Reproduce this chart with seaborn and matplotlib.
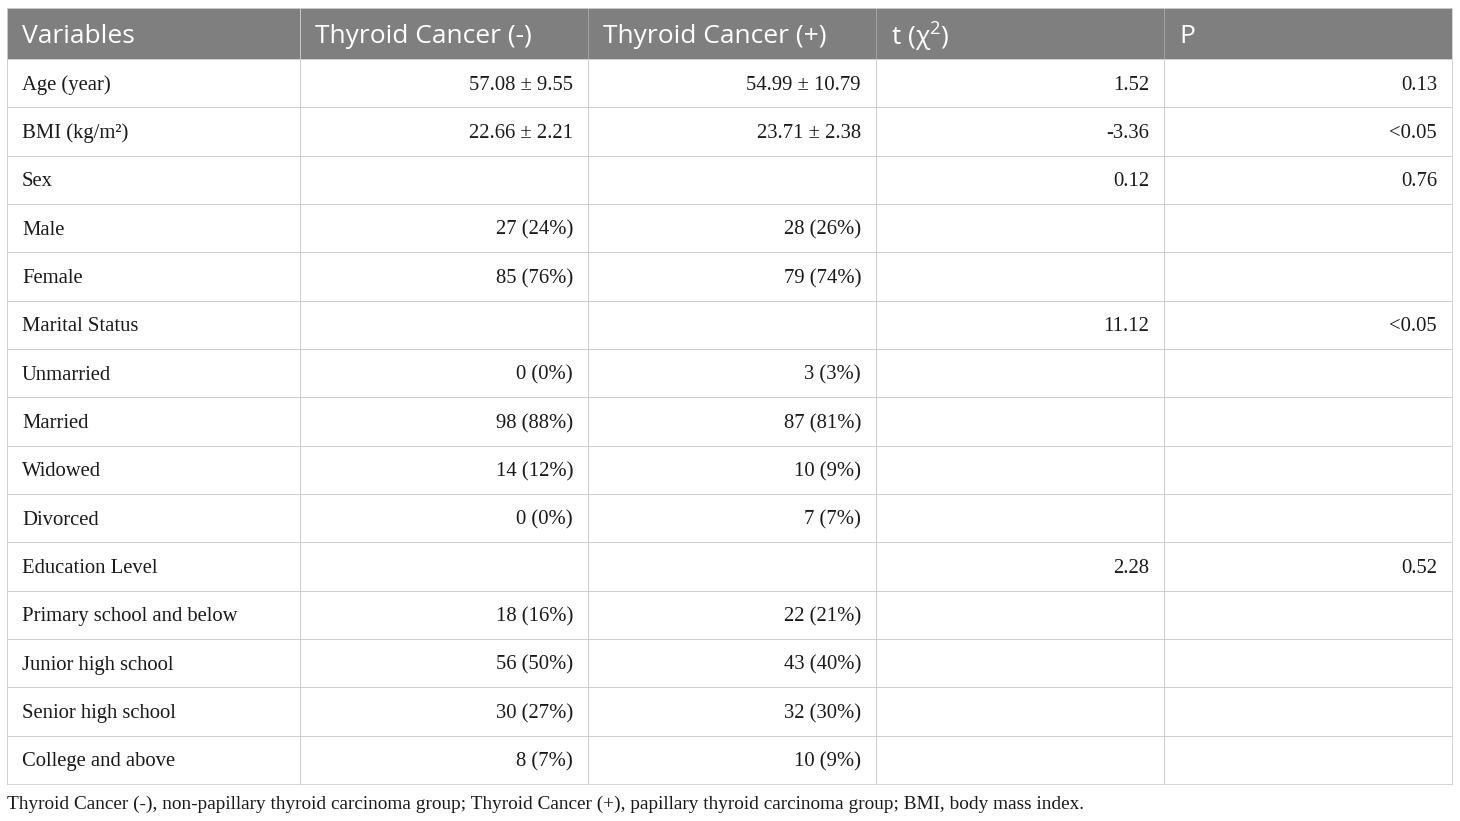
"""
Baseline characteristics table (thyroid cancer study)
- header band + body grid drawn with seaborn heatmaps
- cell texts placed on the heatmap axes
- saved as out.png
"""

import numpy as np
import matplotlib
matplotlib.use("Agg")
import matplotlib.pyplot as plt
import seaborn as sns
from matplotlib.colors import ListedColormap

# === Data ===
columns = ["Variables", "Thyroid Cancer (-)", "Thyroid Cancer (+)", "t (χ$^{2}$)", "P"]

variables = [
    "Age (year)", "BMI (kg/m²)", "Sex", "Male", "Female", "Marital Status",
    "Unmarried", "Married", "Widowed", "Divorced", "Education Level",
    "Primary school and below", "Junior high school", "Senior high school",
    "College and above",
]
cancer_neg = [
    "57.08 ± 9.55", "22.66 ± 2.21", "", "27 (24%)", "85 (76%)", "",
    "0 (0%)", "98 (88%)", "14 (12%)", "0 (0%)", "",
    "18 (16%)", "56 (50%)", "30 (27%)", "8 (7%)",
]
cancer_pos = [
    "54.99 ± 10.79", "23.71 ± 2.38", "", "28 (26%)", "79 (74%)", "",
    "3 (3%)", "87 (81%)", "10 (9%)", "7 (7%)", "",
    "22 (21%)", "43 (40%)", "32 (30%)", "10 (9%)",
]
t_chi2 = ["1.52", "-3.36", "0.12", "", "", "11.12", "", "", "", "", "2.28", "", "", "", ""]
p_value = ["0.13", "<0.05", "0.76", "", "", "<0.05", "", "", "", "", "0.52", "", "", "", ""]

footnote = ("Thyroid Cancer (-), non-papillary thyroid carcinoma group; "
            "Thyroid Cancer (+), papillary thyroid carcinoma group; BMI, body mass index.")

# === Style ===
sns.set_theme(style="white")
plt.rcParams["font.family"] = ["Liberation Serif", "DejaVu Serif"]
plt.rcParams["mathtext.fontset"] = "custom"
plt.rcParams["mathtext.rm"] = "Open Sans"

HEADER_BG = "#7f7f7f"
HEADER_LINE = "#a3a3a3"
GRID = "#cfcfcf"
TEXT = "#1a1a1a"
LW = 0.6

W, H = 1460, 821
X_EDGES = [7, 300, 1452]          # first column axes | other columns axes
TOP, HEAD_BOT, BOT = 8, 59, 784

fig = plt.figure(figsize=(W / 100, H / 100), dpi=100)
fig.patch.set_facecolor("white")


def grid_axes(x0, x1, y0, y1, nrows, ncols, color, line):
    ax = fig.add_axes([x0 / W, 1 - y1 / H, (x1 - x0) / W, (y1 - y0) / H])
    sns.heatmap(np.zeros((nrows, ncols)), ax=ax, cmap=ListedColormap([color]), cbar=False,
                linewidths=LW, linecolor=line, xticklabels=False, yticklabels=False)
    for s in ax.spines.values():
        s.set_visible(True)
        s.set_color(GRID)
        s.set_linewidth(LW)
    return ax


nrows = len(variables)
ax_h0 = grid_axes(X_EDGES[0], X_EDGES[1], TOP, HEAD_BOT, 1, 1, HEADER_BG, HEADER_LINE)
ax_h1 = grid_axes(X_EDGES[1], X_EDGES[2], TOP, HEAD_BOT, 1, 4, HEADER_BG, HEADER_LINE)
ax_b0 = grid_axes(X_EDGES[0], X_EDGES[1], HEAD_BOT, BOT, nrows, 1, "white", GRID)
ax_b1 = grid_axes(X_EDGES[1], X_EDGES[2], HEAD_BOT, BOT, nrows, 4, "white", GRID)

w0 = X_EDGES[1] - X_EDGES[0]
w1 = (X_EDGES[2] - X_EDGES[1]) / 4
head_h = HEAD_BOT - TOP
row_h = (BOT - HEAD_BOT) / nrows

# --- header ---
hdr_kw = dict(ha="left", va="center", color="white", fontsize=19,
              family=["Open Sans", "DejaVu Sans"])
ax_h0.text(15 / w0, 0.5 + 3 / head_h, columns[0], **hdr_kw)
for c, name in enumerate(columns[1:]):
    ax_h1.text(c + 15 / w1, 0.5 + 3 / head_h, name, **hdr_kw)

# --- body ---
dy = 2 / row_h
for r, val in enumerate(variables):
    ax_b0.text(15 / w0, r + 0.5 + dy, val, ha="left", va="center", color=TEXT, fontsize=14.9)

for c, values in enumerate([cancer_neg, cancer_pos, t_chi2, p_value]):
    for r, val in enumerate(values):
        if val:
            ax_b1.text(c + 1 - 15 / w1, r + 0.5 + dy, val, ha="right", va="center",
                       color=TEXT, fontsize=14.9)

# --- footnote ---
fig.text(7 / W, 1 - 804 / H, footnote, ha="left", va="center", color=TEXT, fontsize=13.85)

fig.savefig("out.png", dpi=100)
plt.close(fig)
